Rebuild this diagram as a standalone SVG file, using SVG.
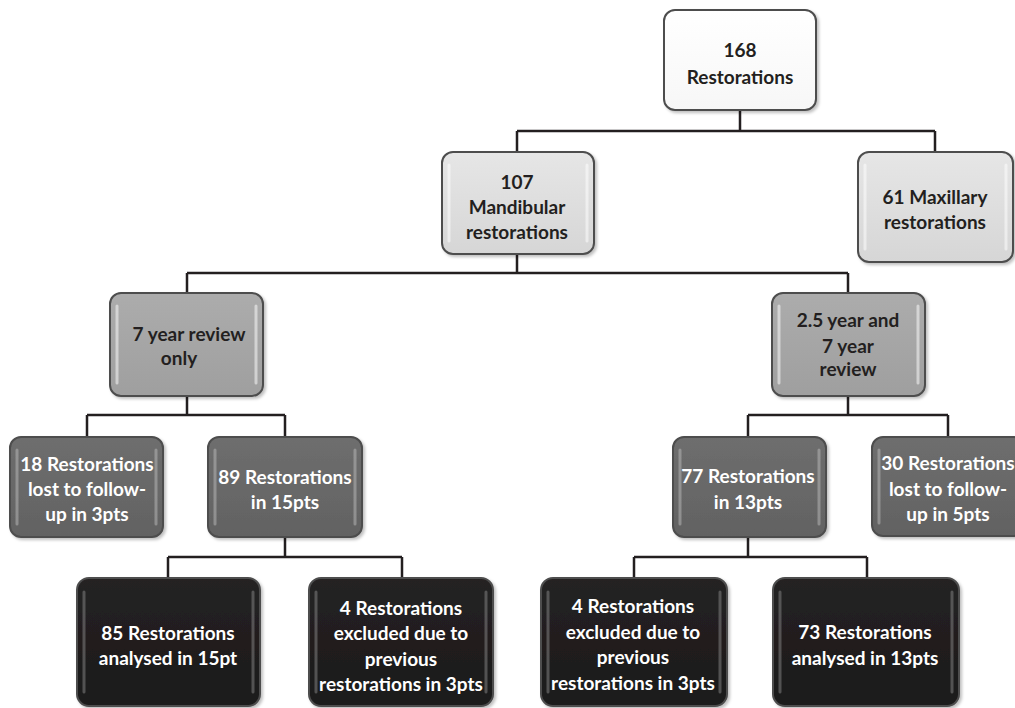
<svg xmlns="http://www.w3.org/2000/svg" width="1015" height="708" viewBox="0 0 1015 708">
<defs>
<style>
.box{stroke:#4d4d4d;stroke-width:2}
.hl{fill:none;stroke-width:3;stroke-linecap:round;opacity:0.5}
.t{font-family:Lato,"Liberation Sans",sans-serif;font-weight:bold;font-size:19px;text-anchor:middle}
.dk{fill:#231f20}
.wt{fill:#ffffff}
.conn{fill:none;stroke:#231f20;stroke-width:2.5}
</style>
<linearGradient id="g0" x1="0" y1="0" x2="0" y2="1"><stop offset="0" stop-color="#ffffff"/><stop offset="1" stop-color="#f7f7f7"/></linearGradient>
<linearGradient id="g1" x1="0" y1="0" x2="0" y2="1"><stop offset="0" stop-color="#e6e6e6"/><stop offset="1" stop-color="#d6d6d6"/></linearGradient>
<linearGradient id="g2" x1="0" y1="0" x2="0" y2="1"><stop offset="0" stop-color="#acacac"/><stop offset="1" stop-color="#9f9f9f"/></linearGradient>
<linearGradient id="g3" x1="0" y1="0" x2="0" y2="1"><stop offset="0" stop-color="#6e6e6e"/><stop offset="1" stop-color="#626262"/></linearGradient>
<linearGradient id="g4" x1="0" y1="0" x2="0" y2="1"><stop offset="0" stop-color="#252223"/><stop offset="1" stop-color="#1c1a1a"/></linearGradient>
<filter id="sh" x="-10%" y="-10%" width="125%" height="125%"><feDropShadow dx="2" dy="2" stdDeviation="1.5" flood-color="#000" flood-opacity="0.25"/></filter>
</defs>
<rect width="1015" height="708" fill="#ffffff"/>
<g id="connectors">
<path class="conn" d="M740,110V131M517,131H935M517,131V152M935,131V152"/>
<path class="conn" d="M517,254V273M187,273H848M187,273V293M848,273V293"/>
<path class="conn" d="M187,396V415M87,415H285M87,415V437M285,415V437"/>
<path class="conn" d="M848,396V415M748,415H948M748,415V437M948,415V437"/>
<path class="conn" d="M285,537V557M168,557H402M168,557V578M402,557V578"/>
<path class="conn" d="M748,537V557M634,557H867M634,557V578M867,557V578"/>
</g>
<g id="n168">
<rect class="box" x="664" y="10" width="152" height="100" rx="11" fill="url(#g0)" filter="url(#sh)"/>
<text class="t dk" x="740" y="57">168</text>
<text class="t dk" x="740" y="84">Restorations</text>
</g>
<g id="n107">
<rect class="box" x="442" y="152" width="152" height="102" rx="11" fill="url(#g1)" filter="url(#sh)"/>
<path class="hl" stroke="#ffffff" d="M449,165V241M587,165V241"/>
<text class="t dk" x="517" y="189">107</text>
<text class="t dk" x="517" y="214">Mandibular</text>
<text class="t dk" x="517" y="239">restorations</text>
</g>
<g id="n61">
<rect class="box" x="858" y="152" width="155" height="110" rx="11" fill="url(#g1)" filter="url(#sh)"/>
<path class="hl" stroke="#ffffff" d="M865,165V249M1006,165V249"/>
<text class="t dk" x="935" y="204">61 Maxillary</text>
<text class="t dk" x="935" y="229">restorations</text>
</g>
<g id="n7yr">
<rect class="box" x="110" y="293" width="153" height="103" rx="11" fill="url(#g2)" filter="url(#sh)"/>
<path class="hl" stroke="#ffffff" d="M117,306V383M256,306V383"/>
<text class="t dk" x="189" y="341">7 year review</text>
<text class="t dk" x="179" y="365">only</text>
</g>
<g id="n25yr">
<rect class="box" x="772" y="293" width="153" height="103" rx="11" fill="url(#g2)" filter="url(#sh)"/>
<path class="hl" stroke="#ffffff" d="M779,306V383M918,306V383"/>
<text class="t dk" x="848" y="327">2.5 year and</text>
<text class="t dk" x="848" y="353">7 year</text>
<text class="t dk" x="848" y="376">review</text>
</g>
<g id="n18">
<rect class="box" x="10" y="437" width="153" height="100" rx="11" fill="url(#g3)" filter="url(#sh)"/>
<path class="hl" stroke="#bbbbbb" d="M17,450V524M156,450V524"/>
<text class="t wt" x="87" y="471">18 Restorations</text>
<text class="t wt" x="87" y="496">lost to follow-</text>
<text class="t wt" x="87" y="521">up in 3pts</text>
</g>
<g id="n89">
<rect class="box" x="208" y="437" width="154" height="100" rx="11" fill="url(#g3)" filter="url(#sh)"/>
<path class="hl" stroke="#bbbbbb" d="M215,450V524M355,450V524"/>
<text class="t wt" x="285" y="484">89 Restorations</text>
<text class="t wt" x="285" y="509">in 15pts</text>
</g>
<g id="n77">
<rect class="box" x="673" y="437" width="153" height="100" rx="11" fill="url(#g3)" filter="url(#sh)"/>
<path class="hl" stroke="#bbbbbb" d="M680,450V524M819,450V524"/>
<text class="t wt" x="748" y="483">77 Restorations</text>
<text class="t wt" x="748" y="509">in 13pts</text>
</g>
<g id="n30">
<rect class="box" x="872" y="437" width="153" height="99" rx="11" fill="url(#g3)" filter="url(#sh)"/>
<path class="hl" stroke="#bbbbbb" d="M879,450V523"/>
<text class="t wt" x="948" y="470">30 Restorations</text>
<text class="t wt" x="948" y="496">lost to follow-</text>
<text class="t wt" x="948" y="521">up in 5pts</text>
</g>
<g id="n85">
<rect class="box" x="77" y="578" width="183" height="128" rx="12" fill="url(#g4)" filter="url(#sh)"/>
<path class="hl" stroke="#888888" d="M84,592V692M253,592V692"/>
<text class="t wt" x="168" y="640">85 Restorations</text>
<text class="t wt" x="168" y="665">analysed in 15pt</text>
</g>
<g id="n4a">
<rect class="box" x="309" y="578" width="184" height="128" rx="12" fill="url(#g4)" filter="url(#sh)"/>
<path class="hl" stroke="#888888" d="M316,592V692M486,592V692"/>
<text class="t wt" x="401" y="615">4 Restorations</text>
<text class="t wt" x="401" y="640">excluded due to</text>
<text class="t wt" x="401" y="666">previous</text>
<text class="t wt" x="401" y="691">restorations in 3pts</text>
</g>
<g id="n4b">
<rect class="box" x="541" y="578" width="186" height="128" rx="12" fill="url(#g4)" filter="url(#sh)"/>
<path class="hl" stroke="#888888" d="M548,592V692M720,592V692"/>
<text class="t wt" x="633" y="613">4 Restorations</text>
<text class="t wt" x="633" y="639">excluded due to</text>
<text class="t wt" x="633" y="664">previous</text>
<text class="t wt" x="633" y="690">restorations in 3pts</text>
</g>
<g id="n73">
<rect class="box" x="773" y="578" width="186" height="128" rx="12" fill="url(#g4)" filter="url(#sh)"/>
<path class="hl" stroke="#888888" d="M780,592V692M952,592V692"/>
<text class="t wt" x="865" y="639">73 Restorations</text>
<text class="t wt" x="865" y="665">analysed in 13pts</text>
</g>
</svg>
